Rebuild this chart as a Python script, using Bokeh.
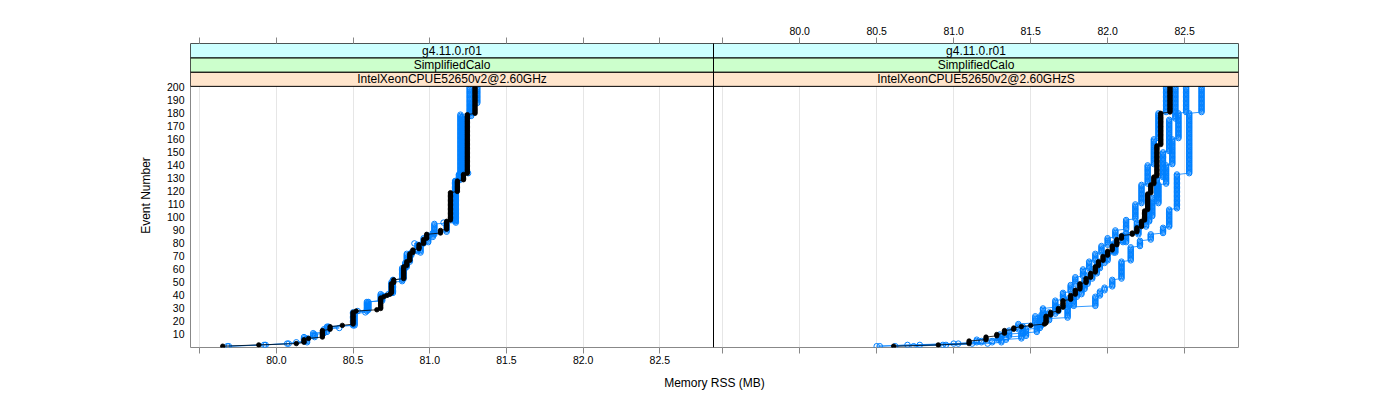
import numpy as np
from bokeh.plotting import figure
from bokeh.models import (Range1d, LinearAxis, FixedTicker, CustomJSTickFormatter,
                          Grid, Span)
from bokeh.core.properties import value
from bokeh.embed import file_html
from bokeh.resources import INLINE

# ---------------- data (Memory RSS in MB, run-length encoded per event 1..200) ----------------
# left panel: IntelXeonCPUE52650v2@2.60GHz
black_L_rss = [79.65, 79.885, 80.13, 80.18, 80.21, 80.30, 80.35, 80.43, 80.50, 80.52, 80.655,
               80.68, 80.70, 80.72, 80.74, 80.75, 80.765, 80.83, 80.85, 80.87, 80.89, 80.93,
               80.96, 80.98, 81.07, 81.11, 81.135, 81.18, 81.22, 81.245, 81.295]
black_L_n = [1, 1, 1, 3, 1, 6, 3, 1, 10, 1, 1, 9, 1, 1, 1, 8, 3, 10, 4, 6, 3, 4, 4, 4, 3, 7,
             22, 9, 5, 46, 21]

blue1_L_rss = [79.68, 79.92, 80.07, 80.13, 80.18, 80.24, 80.33, 80.50, 80.59, 80.68, 80.75,
               80.82, 80.85, 80.94, 80.92, 80.96, 81.02, 81.11, 81.09, 81.165, 81.20, 81.26]
blue1_L_n = [1, 1, 1, 1, 4, 3, 5, 11, 8, 6, 9, 11, 11, 1, 6, 5, 4, 7, 1, 32, 51, 21]

blue2_L_rss = [79.69, 79.93, 80.08, 80.20, 80.25, 80.31, 80.41, 80.34, 80.51, 80.58, 80.53,
               80.60, 80.69, 80.73, 80.76, 80.83, 80.84, 80.87, 80.88, 80.94, 80.90, 80.99,
               81.03, 81.17, 81.19, 81.25, 81.21, 81.27, 81.31]
blue2_L_n = [1, 1, 1, 4, 3, 4, 1, 1, 10, 1, 1, 7, 5, 1, 11, 8, 5, 5, 3, 6, 1, 6, 9, 33, 5, 1,
             43, 10, 13]

# right panel: IntelXeonCPUE52650v2@2.60GHzS
black_R_rss = [80.61, 80.90, 81.10, 81.21, 81.28, 81.33, 81.39, 81.44, 81.50, 81.59, 81.60,
               81.63, 81.68, 81.71, 81.76, 81.79, 81.82, 81.86, 81.89, 81.92, 81.94, 81.97,
               82.00, 82.03, 82.06, 82.09, 82.16, 82.19, 82.22, 82.24, 82.26, 82.28, 82.30,
               82.32, 82.345, 82.405]
black_R_n = [1, 1, 3, 3, 2, 3, 2, 1, 1, 1, 6, 3, 3, 6, 4, 4, 5, 4, 4, 5, 4, 4, 4, 4, 5, 3, 2,
             4, 5, 8, 13, 7, 6, 24, 25, 20]

blueA_R_rss = [80.52, 80.70, 81.03, 81.18, 81.29, 81.36, 81.42, 81.53, 81.58, 81.66, 81.71,
               81.76, 81.79, 81.84, 81.88, 81.92, 81.96, 82.00, 82.05, 82.12, 82.18, 82.22,
               82.26, 82.30, 82.33, 82.38]
blueA_R_n = [1, 1, 1, 2, 3, 5, 5, 6, 6, 6, 6, 6, 6, 6, 6, 6, 6, 6, 6, 8, 12, 15, 15, 20, 20, 20]

blueB_R_rss = [80.74, 80.93, 81.12, 81.25, 81.34, 81.47, 81.56, 81.62, 81.68, 81.75, 81.80,
               81.85, 81.90, 81.95, 82.00, 82.05, 82.10, 82.20, 82.25, 82.29, 82.32, 82.36,
               82.40, 82.44]
blueB_R_n = [1, 1, 1, 2, 3, 6, 6, 7, 4, 7, 6, 8, 8, 6, 6, 8, 6, 6, 8, 15, 15, 20, 25, 25]

blueC_R_rss = [80.62, 80.95, 81.22, 81.31, 81.44, 81.54, 81.57, 81.66, 81.78, 81.83, 81.87,
               81.93, 81.98, 82.04, 82.12, 82.19, 82.27, 82.33, 82.38, 82.42, 82.46, 82.51]
blueC_R_n = [1, 1, 1, 3, 5, 7, 7, 6, 9, 8, 8, 8, 8, 8, 8, 8, 14, 15, 15, 20, 20, 20]

blueD_R_rss = [80.50, 80.78, 81.00, 81.15, 81.30, 81.45, 81.57, 81.74, 81.92, 81.95, 81.98,
               82.03, 82.09, 82.15, 82.21, 82.28, 82.36, 82.40, 82.45, 82.53, 82.61]
blueD_R_n = [1, 1, 1, 3, 4, 6, 6, 9, 8, 4, 3, 6, 14, 11, 5, 5, 5, 14, 27, 47, 20]

strip_left = ["IntelXeonCPUE52650v2@2.60GHz", "SimplifiedCalo", "g4.11.0.r01"]
strip_right = ["IntelXeonCPUE52650v2@2.60GHzS", "SimplifiedCalo", "g4.11.0.r01"]
strip_colors = ["#FFE5CC", "#CCFFCC", "#CCFFFF"]

x_ticks = [79.5, 80.0, 80.5, 81.0, 81.5, 82.0, 82.5]
y_ticks = [10, 20, 30, 40, 50, 60, 70, 80, 90, 100, 110, 120, 130, 140, 150, 160, 170, 180,
           190, 200]

# ---------------- layout constants ----------------
FONT = "Liberation Sans"
BLUE = "#0080ff"
PL, PR = 523, 525            # panel widths in px
XMIN, XMAX = 79.44, 82.85    # panel x limits
W = XMAX - XMIN
Y_TOP = 233.7                # frame top (includes the strips)
STRIP_EDGES = [200.75, 211.7, 222.7, 233.7]

left_range = Range1d(XMIN, XMIN + W * (PL + PR) / PL)
right_start = XMIN - W * PL / PR
right_range = Range1d(right_start, XMAX)


def right_to_left(v):
    fx = PL + (v - XMIN) * PR / W
    return XMIN + fx * W / PL


def left_to_right(v):
    fx = (v - XMIN) * PL / W
    return right_start + fx * W / PR


p = figure(width=1392, height=392, output_backend="svg", toolbar_location=None,
           x_range=left_range, y_range=Range1d(0, Y_TOP),
           x_axis_type=None, y_axis_type=None,
           min_border_left=190, min_border_right=154, min_border_top=43, min_border_bottom=44)
p.extra_x_ranges = {"right": right_range}
p.outline_line_color = "#888888"
p.background_fill_color = "white"
p.border_fill_color = "white"

fmt_code = "return (tick > 79.9 && tick < 82.6) ? tick.toFixed(1) : '';"
bottom_ticks = x_ticks + [right_to_left(t) for t in x_ticks]
top_ticks = [left_to_right(t) for t in x_ticks] + x_ticks

# grid lines (vertical) at ticks of both panels
p.add_layout(Grid(dimension=0, ticker=FixedTicker(ticks=bottom_ticks),
                  grid_line_color="#e6e6e6", grid_line_width=1))


def style_axis(ax):
    ax.axis_line_color = None
    ax.major_tick_line_color = "#888888"
    ax.major_tick_in = 0
    ax.minor_tick_in = 0
    ax.minor_tick_out = 0
    ax.major_label_text_font = FONT
    ax.major_label_text_font_size = "10.5px"
    ax.major_label_text_color = "black"
    ax.axis_label_text_font = FONT
    ax.axis_label_text_font_size = "12px"
    ax.axis_label_text_font_style = "normal"
    ax.axis_label_text_color = "black"


xb = LinearAxis(ticker=FixedTicker(ticks=bottom_ticks),
                formatter=CustomJSTickFormatter(code=fmt_code),
                axis_label="Memory RSS (MB)")
style_axis(xb)
xb.major_tick_out = 6
xb.major_label_standoff = 2
xb.axis_label_standoff = 9
p.add_layout(xb, "below")

xt = LinearAxis(x_range_name="right", ticker=FixedTicker(ticks=top_ticks),
                formatter=CustomJSTickFormatter(code=fmt_code))
style_axis(xt)
xt.major_tick_out = 6
xt.major_label_standoff = 3
p.add_layout(xt, "above")

yl = LinearAxis(ticker=FixedTicker(ticks=y_ticks), axis_label="Event Number")
style_axis(yl)
yl.major_tick_out = 0
yl.major_label_standoff = 6
yl.axis_label_standoff = 11
p.add_layout(yl, "left")


def expand(rss, n):
    x = np.repeat(np.array(rss, dtype=float), np.array(n))
    y = np.arange(1, len(x) + 1)
    return x, y


def draw_blue(rss, n, rng):
    x, y = expand(rss, n)
    p.line(x, y, line_color=BLUE, line_width=0.8, x_range_name=rng)
    p.scatter(x, y, marker="circle", size=5.5, fill_color=None, line_color=BLUE,
              line_width=1, x_range_name=rng)


def draw_black(rss, n, rng):
    x, y = expand(rss, n)
    p.line(x, y, line_color="black", line_width=0.8, x_range_name=rng)
    p.scatter(x, y, marker="circle", size=4.5, fill_color="black", line_color="black",
              line_width=0.8, x_range_name=rng)


draw_blue(blue1_L_rss, blue1_L_n, "default")
draw_blue(blue2_L_rss, blue2_L_n, "default")
draw_black(black_L_rss, black_L_n, "default")

draw_blue(blueA_R_rss, blueA_R_n, "right")
draw_blue(blueB_R_rss, blueB_R_n, "right")
draw_blue(blueC_R_rss, blueC_R_n, "right")
draw_blue(blueD_R_rss, blueD_R_n, "right")
draw_black(black_R_rss, black_R_n, "right")

# strips
for labels, rng in ((strip_left, "default"), (strip_right, "right")):
    p.quad(left=[XMIN] * 3, right=[XMAX] * 3, bottom=STRIP_EDGES[:3], top=STRIP_EDGES[1:],
           fill_color=strip_colors, line_color="black", line_width=1, x_range_name=rng)
    mids = [(STRIP_EDGES[i] + STRIP_EDGES[i + 1]) / 2 for i in range(3)]
    p.text(x=[(XMIN + XMAX) / 2] * 3, y=mids, text=labels,
           text_font=value(FONT), text_font_size="12px", text_align="center",
           text_baseline="middle", text_color="black", x_range_name=rng)

p.add_layout(Span(location=XMAX, dimension="height", line_color="black", line_width=1))

open("out.html", "w").write(file_html(p, INLINE))
